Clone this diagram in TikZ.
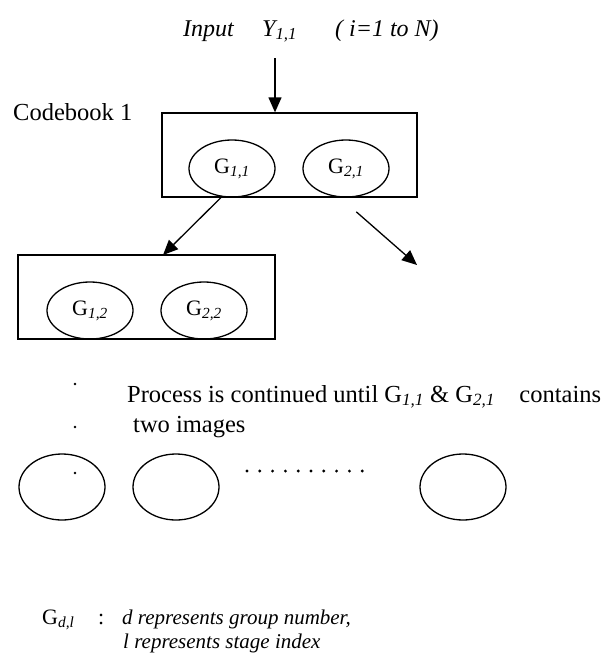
\documentclass[tikz,border=0pt]{standalone}
\usepackage{fontspec}
\setmainfont{Liberation Serif}
\usetikzlibrary{positioning,shapes.geometric,arrows.meta}
\newcommand{\idx}[1]{\textsubscript{\itshape #1}}
\tikzset{
  grp/.style={ellipse,draw,line width=1.3pt,minimum width=86pt,minimum height=57pt,inner sep=0pt,font=\fontsize{22}{26}\selectfont},
  book/.style={rectangle,draw,line width=1.3pt,minimum height=84pt,inner sep=0pt},
  lbl/.style={anchor=base west,inner sep=0pt,font=\fontsize{24.5}{28}\selectfont},
  ilbl/.style={lbl,font=\itshape\fontsize{24}{28}\selectfont},
  flow/.style={-{Triangle[length=15pt,width=13pt]},line width=1.3pt},
}
\begin{document}
\begin{tikzpicture}[x=1pt,y=-1pt]
                \useasboundingbox (0,0) rectangle (609,667);
                \node[ilbl] (input) at (183,36) {Input};
                \node[ilbl] (yin) at (262,36) {Y\textsubscript{1,1}};
                \node[ilbl] (range) at (335,36) {( i=1 to N)};
                \node[lbl] (cbname) at (13,120) {Codebook 1};
                \node[book,minimum width=255pt] (cb1) at (289.5,155) {};
                \node[grp] (g11) at (232,168.5) {G\idx{1,1}};
                \node[grp] (g21) at (346,168.5) {G\idx{2,1}};
                \node[book,minimum width=257pt] (cb2) at (146.5,297) {};
                \node[grp] (g12) at (90,310.5) {G\idx{1,2}};
                \node[grp] (g22) at (204,310.5) {G\idx{2,2}};
                \coordinate (src) at (275,58);
                \coordinate (tgt) at (163,255);
                \coordinate (nxt) at (417,265);
                \draw[flow] (src) -- (src |- cb1.north);
                \draw[flow] (g11.250) -- (tgt);
                \draw[flow] ([yshift=-15pt]g21.290) -- (nxt);
                \node[lbl] (note1) at (127,402) {Process is continued until G\idx{1,1} \& G\idx{2,1}\quad contains};
                \node[lbl] (note2) at (133,432) {two images};
                \foreach \y in {384,427,473}
                    \fill (75,\y) circle (1.3pt);
                \node[grp,minimum height=66pt] (s1) at (62,487) {};
                \node[grp,minimum height=66pt] (s2) at (176,487) {};
                \node[grp,minimum height=66pt] (sn) at (463,487) {};
                \foreach \i in {0,...,9}
                    \fill ({247+12.8*\i},471) circle (1.6pt);
                \node[lbl,font=\fontsize{22}{26}\selectfont] (gdl) at (42,624) {G\idx{d,l}};
                \node[lbl,font=\fontsize{22}{26}\selectfont] (colon) at (98,624) {:};
                \node[ilbl,font=\itshape\fontsize{21}{24}\selectfont] (leg1) at (122,624) {d represents group number,};
                \node[ilbl,font=\itshape\fontsize{21}{24}\selectfont] (leg2) at (123,648) {l represents stage index};
\end{tikzpicture}
\end{document}
